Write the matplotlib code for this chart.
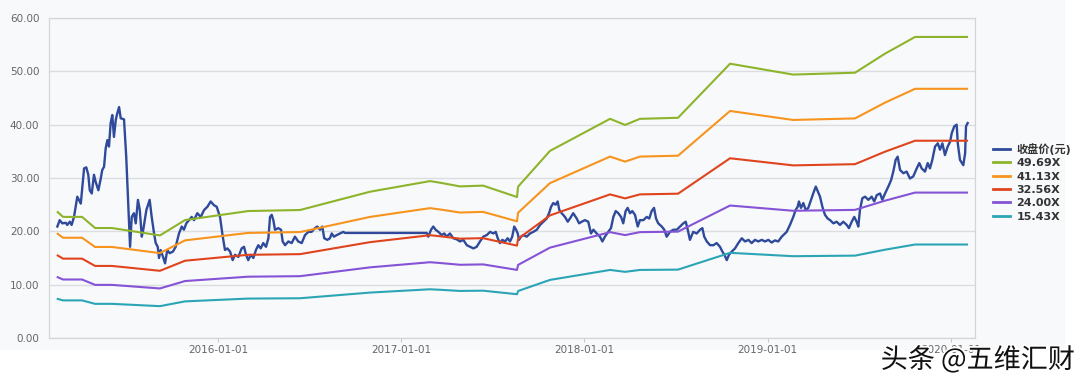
import matplotlib
matplotlib.use("Agg")
import matplotlib.pyplot as plt
import matplotlib.patheffects as pe
from matplotlib.patches import Rectangle

plt.rcParams['font.family'] = ['DejaVu Sans', 'Noto Sans CJK SC']

# ---- DATA ----
# time axis in decimal years
price_t = [
    2015.123, 2015.136, 2015.150, 2015.169, 2015.177, 2015.191, 2015.201, 2015.214,
    2015.232, 2015.241, 2015.251, 2015.269, 2015.281, 2015.292, 2015.300, 2015.311,
    2015.323, 2015.332, 2015.347, 2015.360, 2015.368, 2015.378, 2015.387, 2015.396,
    2015.405, 2015.414, 2015.423, 2015.432, 2015.442, 2015.450, 2015.460, 2015.469,
    2015.487, 2015.499, 2015.510, 2015.520, 2015.529, 2015.541, 2015.551, 2015.563,
    2015.573, 2015.584, 2015.592, 2015.609, 2015.627, 2015.638, 2015.651, 2015.660,
    2015.671, 2015.678, 2015.687, 2015.700, 2015.711, 2015.723, 2015.736, 2015.754,
    2015.769, 2015.787, 2015.802, 2015.814, 2015.827, 2015.842, 2015.856, 2015.869,
    2015.887, 2015.906, 2015.924, 2015.942, 2015.960, 2015.978, 2015.993,
    2016.011, 2016.026, 2016.038, 2016.051, 2016.066, 2016.080, 2016.093, 2016.111,
    2016.129, 2016.142, 2016.153, 2016.165, 2016.179, 2016.193, 2016.207, 2016.220,
    2016.233, 2016.247, 2016.262, 2016.275, 2016.284, 2016.293, 2016.302, 2016.311,
    2016.329, 2016.344, 2016.353, 2016.366, 2016.384, 2016.402, 2016.420, 2016.438,
    2016.457, 2016.475, 2016.493, 2016.511, 2016.529, 2016.542, 2016.557, 2016.569,
    2016.580, 2016.597, 2016.611, 2016.621, 2016.633, 2016.648, 2016.666, 2016.684,
    2016.693,
    2017.139, 2017.148, 2017.163, 2017.175, 2017.188, 2017.203, 2017.221, 2017.235,
    2017.248, 2017.266, 2017.284, 2017.303, 2017.321, 2017.339, 2017.358, 2017.376,
    2017.394, 2017.412, 2017.430, 2017.448, 2017.467, 2017.485, 2017.503, 2017.516,
    2017.527, 2017.539, 2017.552, 2017.567, 2017.581, 2017.594, 2017.606, 2017.617,
    2017.627, 2017.636, 2017.643, 2017.654, 2017.666, 2017.685, 2017.703, 2017.721,
    2017.740, 2017.758, 2017.776, 2017.794, 2017.807, 2017.818, 2017.830, 2017.843,
    2017.854, 2017.863, 2017.876, 2017.894, 2017.909, 2017.921, 2017.939, 2017.958,
    2017.971, 2017.985,
    2018.003, 2018.021, 2018.036, 2018.049, 2018.067, 2018.085, 2018.098, 2018.112,
    2018.130, 2018.145, 2018.158, 2018.171, 2018.185, 2018.200, 2018.212, 2018.225,
    2018.236, 2018.249, 2018.261, 2018.276, 2018.291, 2018.303, 2018.322, 2018.340,
    2018.354, 2018.367, 2018.380, 2018.391, 2018.403, 2018.422, 2018.436, 2018.449,
    2018.467, 2018.485, 2018.504, 2018.522, 2018.540, 2018.553, 2018.564, 2018.576,
    2018.594, 2018.613, 2018.631, 2018.644, 2018.654, 2018.668, 2018.686, 2018.704,
    2018.722, 2018.740, 2018.753, 2018.764, 2018.777, 2018.789, 2018.804, 2018.822,
    2018.840, 2018.859, 2018.877, 2018.895, 2018.913, 2018.931, 2018.949, 2018.968,
    2018.986,
    2019.004, 2019.022, 2019.040, 2019.058, 2019.077, 2019.104, 2019.122, 2019.140,
    2019.153, 2019.164, 2019.171, 2019.182, 2019.195, 2019.208, 2019.222, 2019.237,
    2019.249, 2019.263, 2019.274, 2019.286, 2019.299, 2019.313, 2019.328, 2019.341,
    2019.359, 2019.377, 2019.395, 2019.413, 2019.432, 2019.444, 2019.459, 2019.473,
    2019.486, 2019.495, 2019.504, 2019.517, 2019.532, 2019.550, 2019.568, 2019.582,
    2019.596, 2019.614, 2019.626, 2019.641, 2019.659, 2019.674, 2019.686, 2019.699,
    2019.710, 2019.723, 2019.741, 2019.759, 2019.777, 2019.795, 2019.814, 2019.828,
    2019.841, 2019.859, 2019.874, 2019.886, 2019.899, 2019.914, 2019.929, 2019.941,
    2019.954, 2019.968, 2019.983, 2019.996,
    2020.005, 2020.019, 2020.032, 2020.038, 2020.050, 2020.068, 2020.078, 2020.083,
    2020.092,
]
price_v = [
    20.9, 22.1, 21.5, 21.6, 21.2, 21.8, 21.2, 22.7,
    26.5, 25.9, 25.2, 31.8, 32.0, 30.6, 27.7, 27.1,
    30.6, 29.3, 27.7, 29.9, 31.5, 32.1, 35.6, 37.1,
    35.9, 40.3, 41.8, 37.7, 40.9, 42.1, 43.3, 41.2,
    41.0, 34.0, 25.3, 17.1, 22.7, 23.4, 21.5, 25.9,
    24.0, 19.0, 20.3, 24.0, 25.9, 22.7, 19.6, 17.8,
    17.1, 15.0, 16.5, 15.2, 14.0, 16.5, 15.9, 16.2,
    17.1, 19.6, 20.9, 20.3, 21.5, 22.1, 22.7, 22.1,
    23.4, 22.7, 24.0, 24.6, 25.6, 24.9, 24.6,
    22.7, 19.0, 16.5, 16.8, 16.2, 14.6, 15.6, 15.2,
    16.8, 17.1, 15.6, 14.6, 15.6, 15.0, 16.5, 17.4,
    16.8, 17.8, 17.1, 18.7, 22.7, 23.1, 22.1, 20.3,
    20.6, 20.3, 18.1, 17.4, 18.1, 17.8, 19.0, 18.1,
    17.8, 19.3, 19.9, 19.9, 20.6, 20.9, 20.3, 20.9,
    18.7, 18.4, 18.7, 19.6, 19.0, 19.3, 19.6, 19.9,
    19.7,
    19.7, 19.0, 20.3, 20.9, 20.3, 19.9, 19.3, 19.6,
    19.0, 19.6, 18.7, 18.5, 18.1, 18.4, 17.4, 17.1,
    16.8, 17.1, 18.1, 19.0, 19.3, 19.9, 19.6, 19.9,
    18.7, 17.8, 18.4, 18.1, 18.7, 18.1, 19.0, 20.9,
    20.3, 19.6, 18.4, 19.0, 19.3, 19.0, 19.6, 19.9,
    20.3, 21.2, 21.8, 22.4, 23.4, 24.6, 25.3, 25.0,
    25.6, 24.0, 23.4, 22.7, 21.8, 22.4, 23.4, 22.4,
    21.5, 21.8,
    22.1, 21.8, 19.6, 20.3, 19.6, 19.0, 18.1, 19.0,
    19.9, 20.6, 22.7, 23.8, 23.4, 22.7, 21.5, 23.8,
    24.4, 23.4, 23.8, 23.1, 20.9, 22.1, 22.1, 22.7,
    22.4, 23.8, 24.4, 22.4, 21.5, 20.9, 20.3, 19.0,
    19.9, 20.3, 20.3, 20.9, 21.5, 21.8, 20.3, 18.4,
    19.9, 19.6, 20.3, 20.6, 19.0, 18.1, 17.4, 17.4,
    17.8, 17.1, 16.2, 15.6, 14.6, 15.6, 16.2, 16.8,
    17.8, 18.7, 18.1, 18.4, 17.8, 18.4, 18.1, 18.4,
    18.1,
    18.4, 17.9, 18.3, 18.1, 19.0, 19.9, 21.2, 22.7,
    24.0, 24.6, 25.6, 24.4, 25.3, 24.0, 24.4, 25.9,
    27.1, 28.4, 27.5, 26.5, 24.6, 23.1, 22.4, 22.1,
    21.5, 21.8, 21.2, 21.8, 21.2, 20.6, 21.8, 22.7,
    21.8, 20.9, 24.0, 26.2, 26.5, 25.9, 26.5, 25.6,
    26.8, 27.1, 25.9, 27.1, 28.4, 29.6, 31.2, 33.4,
    34.0, 31.5, 30.9, 31.2, 29.9, 30.3, 31.8, 32.8,
    31.8, 31.2, 32.8, 31.8, 33.4, 35.9, 36.5, 35.3,
    36.5, 34.3, 35.9, 36.8,
    38.4, 39.7, 40.0, 36.5, 33.4, 32.4, 34.6, 39.7,
    40.3,
]

# trailing EPS at report breakpoints (PE band = eps * multiple)
band_t = [2015.125, 2015.154, 2015.258, 2015.329, 2015.421, 2015.683, 2015.820,
          2016.164, 2016.448, 2016.830, 2017.157, 2017.212, 2017.321, 2017.447,
          2017.632, 2017.638, 2017.812, 2018.140, 2018.222, 2018.303, 2018.511,
          2018.795, 2019.139, 2019.477, 2019.641, 2019.805, 2020.088]
eps = [0.475, 0.457, 0.457, 0.415, 0.415, 0.387, 0.445,
       0.479, 0.483, 0.552, 0.592, 0.586, 0.572, 0.575,
       0.532, 0.571, 0.706, 0.827, 0.804, 0.827, 0.831,
       1.035, 0.994, 1.001, 1.073, 1.136, 1.136]

multiples = [49.69, 41.13, 32.56, 24.00, 15.43]
band_labels = ["49.69X", "41.13X", "32.56X", "24.00X", "15.43X"]
band_colors = ["#8db42b", "#f7941e", "#e0441c", "#8453d6", "#2ba5b6"]

xticks = [2016, 2017, 2018, 2019, 2020]
xtick_labels = ["2016-01-01", "2017-01-01", "2018-01-01", "2019-01-01", "2020-01-01"]
yticks = [0, 10, 20, 30, 40, 50, 60]

# ---- PLOT ----
fig = plt.figure(figsize=(10.91, 3.86), dpi=100)
bg = "#f8f9fb"
fig.patches.append(Rectangle((0, 36 / 386), 1065 / 1091, 1 - 36 / 386,
                             transform=fig.transFigure, facecolor=bg,
                             edgecolor="none", zorder=-10))
ax = fig.add_axes([49 / 1091, 48 / 386, 926 / 1091, 320 / 386])
ax.set_facecolor(bg)

ax.plot(price_t, price_v, color="#2f4a9a", lw=1.7, label="收盘价(元)", zorder=3)
for m, lab, col in zip(multiples, band_labels, band_colors):
    ax.plot(band_t, [e * m for e in eps], color=col, lw=1.5, label=lab, zorder=4)

ax.set_xlim(2015.0775, 2020.132)
ax.set_ylim(0, 60)
ax.set_yticks(yticks)
ax.set_yticklabels(["%.2f" % v for v in yticks])
ax.set_xticks(xticks)
ax.set_xticklabels(xtick_labels)
ax.grid(axis="y", color="#dcdde0", lw=1)
ax.set_axisbelow(True)
for s in ax.spines.values():
    s.set_color("#d3d5d9")
    s.set_linewidth(0.9)
ax.tick_params(axis="y", length=0, pad=7, labelsize=7.5, labelcolor="#666666")
ax.tick_params(axis="x", length=3, width=0.8, color="#c8c8c8", pad=2,
               labelsize=7.5, labelcolor="#666666")

leg = ax.legend(loc="upper left", bbox_to_anchor=(993 / 1091, 1 - 143 / 386),
                bbox_transform=fig.transFigure, frameon=False,
                handlelength=1.5, handletextpad=0.6, labelspacing=0.3,
                borderpad=0, borderaxespad=0,
                prop={"family": ["DejaVu Sans", "Noto Sans CJK SC"],
                      "weight": "bold", "size": 8})
for t in leg.get_texts():
    t.set_color("#333333")
for h in leg.get_lines():
    h.set_linewidth(2)

# watermark (partly covers the last tick label, as in the source image)
fig.text(978 / 1091, 1 - 360 / 386, "头条 @五维汇财", ha="center", va="center",
         fontsize=19.5, color="#111111", family=["Noto Sans CJK SC", "DejaVu Sans"],
         path_effects=[pe.withStroke(linewidth=2.5, foreground="white")])

fig.savefig("out.png", dpi=100)
